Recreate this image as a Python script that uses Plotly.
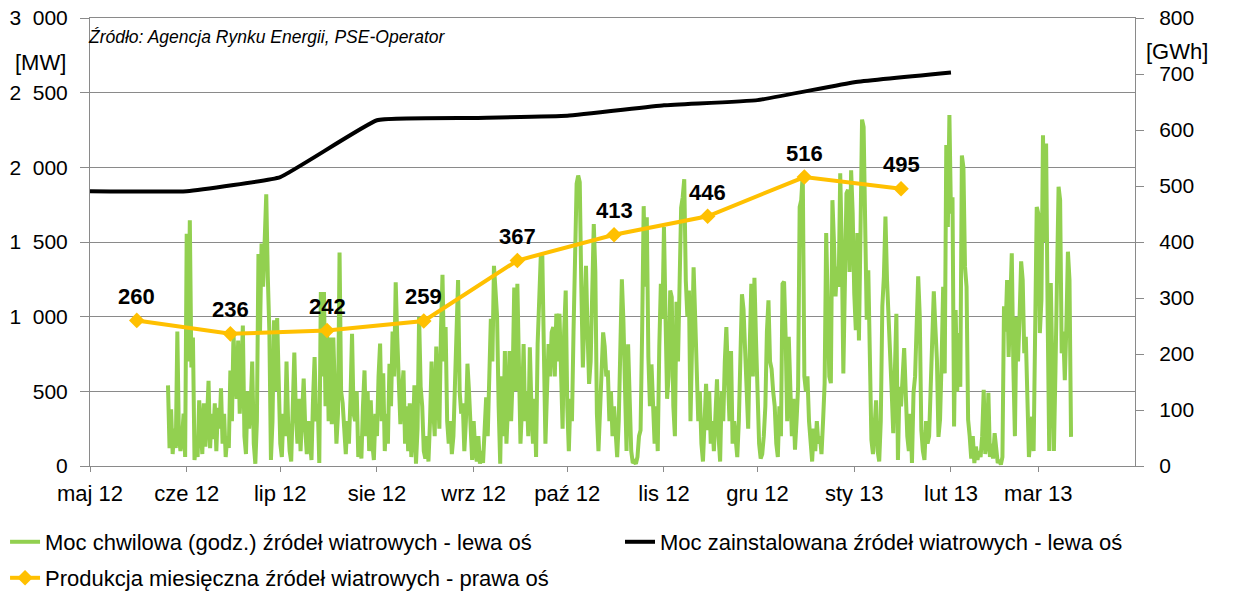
import plotly.graph_objects as go
import pandas as pd

FONT = "Liberation Sans, Arial, sans-serif"

# --- x axis (months) ---
month_ticks = ["2012-05-01", "2012-06-01", "2012-07-01", "2012-08-01", "2012-09-01",
               "2012-10-01", "2012-11-01", "2012-12-01", "2013-01-01", "2013-02-01",
               "2013-03-01"]
month_labels = ["maj 12", "cze 12", "lip 12", "sie 12", "wrz 12", "paź 12",
                "lis 12", "gru 12", "sty 13", "lut 13", "mar 13"]

# --- left axis ticks ---
mw_ticks = [0, 500, 1000, 1500, 2000, 2500, 3000]
mw_labels = ["0", "500", "1\u00a0\u00a0000", "1\u00a0\u00a0500", "2\u00a0\u00a0000",
             "2\u00a0\u00a0500", "3\u00a0\u00a0000"]
gwh_ticks = [0, 100, 200, 300, 400, 500, 600, 700, 800]

# --- installed capacity [MW] ---
inst_dates = ["2012-05-01", "2012-06-01", "2012-07-01", "2012-08-01", "2012-09-01",
              "2012-10-01", "2012-11-01", "2012-12-01", "2013-01-01", "2013-02-01"]
inst_mw = [1840, 1840, 1935, 2315, 2330, 2345, 2415, 2450, 2570, 2635]

# --- monthly production [GWh] ---
prod_dates = ["2012-05-16", "2012-06-15", "2012-07-16", "2012-08-16", "2012-09-15",
              "2012-10-16", "2012-11-15", "2012-12-16", "2013-01-16"]
prod_gwh = [260, 236, 242, 259, 367, 413, 446, 516, 495]

# --- hourly wind power [MW], read at 12-hour steps ---
moc_1_start = "2012-05-26 00:00"
moc_1 = [540, 120, 380, 80, 250, 120, 900, 200, 100, 180,
         350, 60, 1555, 700, 1645, 660, 860, 40, 150, 60,
         440, 200, 80, 420, 130, 300, 570, 120, 350, 180,
         420, 100, 390, 250, 520, 150, 350, 60, 200, 120,
         640, 300, 886, 600, 450, 840, 350, 600, 940, 200,
         80, 500, 250, 400, 700, 150, 15, 300, 1420, 900,
         1490, 1200, 1650, 1820, 1265, 900, 40, 300, 975, 500,
         990, 400, 150, 60, 350, 200, 700, 300, 100, 30,
         400, 760, 350, 150, 450, 100, 350, 585, 250, 80,
         300, 150, 40, 450, 730, 300, 417, 20]
moc_2_start = "2012-07-14 00:00"
moc_2 = [1165, 600, 1165, 400, 900, 300, 860, 280, 860, 500,
         150, 350, 1430, 500, 420, 250, 80, 300, 150, 450,
         886, 350, 300, 500, 60, 200, 50, 400, 640, 200,
         500, 100, 440, 150, 40, 350, 200, 600, 820, 300,
         620, 100, 350, 150, 685, 400, 900, 600, 1230, 860,
         640, 280, 500, 640, 150, 400, 100, 420, 60, 200,
         540, 15, 250, 1000, 530, 400, 100, 50, 200, 30,
         300, 700, 400, 200, 800, 500, 250, 900, 1280, 700,
         930, 300, 150, 300, 80, 200, 600, 900, 1245, 500,
         350, 420, 100, 300, 685, 500, 200, 40, 300]
moc_3_start = "2012-09-01 12:00"
moc_3 = [100, 30, 200, 15, 100, 20, 300, 460, 200, 550,
         985, 700, 1340, 1175, 1000, 400, 15, 600, 200, 770,
         150, 400, 770, 300, 600, 1195, 500, 1220, 700, 150,
         400, 817, 300, 500, 200, 795, 400, 150, 450, 60,
         817, 1200, 1400, 1410, 900, 150, 500, 817, 600, 895,
         930, 600, 1020, 700, 1020, 500, 250, 900, 1175, 400,
         100, 450, 300, 895, 1500, 1890, 1945, 1900, 1200, 660,
         1000, 1340, 900, 550, 700, 1200, 1620, 1300, 350, 100,
         400, 650, 895, 800, 600, 640, 300, 500, 200, 400,
         150, 60, 300, 700, 1250, 970, 600, 100]
moc_4_start = "2012-10-20 12:00"
moc_4 = [815, 390, 100, 20, 30, 15, 60, 200, 240, 900,
         1740, 1200, 1665, 730, 400, 680, 300, 150, 400, 100,
         800, 1220, 985, 1600, 1000, 450, 600, 1175, 1130, 400,
         200, 1100, 700, 1300, 1730, 1800, 1920, 1240, 1000, 1175,
         300, 800, 1330, 1000, 550, 300, 500, 150, 30, 400,
         550, 240, 500, 150, 300, 100, 450, 580, 200, 30,
         500, 300, 700, 930, 600, 300, 770, 150, 300, 150,
         60, 300, 900, 1150, 1050, 795, 500, 250, 800, 1220,
         600, 1260, 850, 400, 150, 50, 80, 200, 400, 900,
         1110, 700, 650, 500, 400, 150, 60, 400, 200, 1220]
moc_5_start = "2012-12-09 12:00"
moc_5 = [1235, 865, 300, 865, 600, 200, 450, 110, 300, 530,
         1735, 1780, 1960, 600, 500, 600, 300, 150, 30, 250,
         100, 300, 150, 200, 80, 300, 550, 1560, 1100, 600,
         555, 1780, 1500, 1135, 1335, 1200, 1960, 1470, 620, 1445,
         1825, 1850, 1300, 1980, 1690, 1155, 910, 1560, 840, 1560,
         2320, 2270, 1445, 980, 1310, 490, 175, 80, 300, 440,
         100, 30, 300, 1070, 1270, 1670, 1245, 930, 710, 500,
         220, 600, 1020, 40, 530, 400, 600, 790, 500, 200,
         100, 350, 20, 490, 600, 1000, 1270, 1000, 240, 100,
         40, 300, 150, 200, 490, 900, 1170, 930, 710, 195]
moc_6_start = "2013-01-28 12:00"
moc_6 = [310, 700, 1200, 620, 2150, 1600, 2350, 1690, 1800, 265,
         1045, 500, 890, 530, 2080, 2000, 1335, 1200, 310, 200,
         50, 200, 20, 130, 40, 100, 60, 200, 510, 80,
         150, 490, 60, 150, 50, 220, 100, 20, 40, 10,
         60, 1070, 900, 1245, 730, 1100, 1425, 665, 200, 1000,
         700, 1000, 1370, 1245, 755, 865, 300, 60, 200, 330,
         100, 900, 1735, 1690, 890, 1110, 2215, 1500, 2160, 1000,
         100, 1225, 750, 100, 640, 1500, 1870, 1780, 755, 900,
         575, 935, 1435, 1245, 195]

chunks = [(moc_1_start, moc_1), (moc_2_start, moc_2), (moc_3_start, moc_3),
          (moc_4_start, moc_4), (moc_5_start, moc_5), (moc_6_start, moc_6)]
moc_x, moc_y = [], []
for start, vals in chunks:
    moc_x += list(pd.date_range(start, periods=len(vals), freq="12h"))
    moc_y += vals

GRID = "#8a8a8a"
GREEN = "#92D050"
YELLOW = "#FFC000"
LEG_FONT = dict(family=FONT, size=22, color="#000000")

fig = go.Figure()
fig.add_trace(go.Scatter(
    x=moc_x, y=moc_y, mode="lines",
    line=dict(color=GREEN, width=4),
    name="Moc chwilowa (godz.) źródeł wiatrowych - lewa oś", legend="legend"))
fig.add_trace(go.Scatter(
    x=pd.to_datetime(inst_dates), y=inst_mw, mode="lines",
    line=dict(color="#000000", width=4, shape="spline", smoothing=0.3),
    name="Moc zainstalowana źródeł wiatrowych - lewa oś", legend="legend2"))
fig.add_trace(go.Scatter(
    x=pd.to_datetime(prod_dates), y=prod_gwh, mode="lines+markers", yaxis="y2",
    line=dict(color=YELLOW, width=4),
    marker=dict(symbol="diamond", size=12, color=YELLOW),
    name="Produkcja miesięczna źródeł wiatrowych - prawa oś", legend="legend3"))

annotations = []
for d, v in zip(prod_dates, prod_gwh):
    annotations.append(dict(
        x=d, y=v, xref="x", yref="y2", text=f"<b>{v}</b>", showarrow=False,
        yshift=24, font=dict(family=FONT, size=22, color="#000000")))

annotations += [
    dict(x=0, y=0.9576, xref="paper", yref="paper", xanchor="left", yanchor="middle",
         xshift=-4, text="<i>Źródło: Agencja Rynku Energii, PSE-Operator</i>",
         showarrow=False, font=dict(family=FONT, size=17.5, color="#000000")),
    dict(x=-0.0478, y=0.8996, xref="paper", yref="paper", xanchor="center", yanchor="middle",
         text="[MW]", showarrow=False, font=dict(family=FONT, size=22, color="#000000")),
    dict(x=1.040, y=0.926, xref="paper", yref="paper", xanchor="center", yanchor="middle",
         text="[GWh]", showarrow=False, font=dict(family=FONT, size=22, color="#000000")),
]

leg_common = dict(orientation="h", xanchor="left", yanchor="middle",
                  font=LEG_FONT, bgcolor="rgba(0,0,0,0)", itemwidth=30)

fig.update_layout(
    width=1237, height=606,
    margin=dict(l=90, r=102, t=18, b=140, autoexpand=False),
    paper_bgcolor="white", plot_bgcolor="white",
    font=dict(family=FONT, size=21, color="#000000"),
    showlegend=True,
    legend=dict(x=-0.0813, y=-0.1696, **leg_common),
    legend2=dict(x=0.5072, y=-0.1696, **leg_common),
    legend3=dict(x=-0.0813, y=-0.25, **leg_common),
    xaxis=dict(type="date", range=["2012-05-01", "2013-04-01"],
               tickvals=month_ticks, ticktext=month_labels,
               showgrid=False, zeroline=False,
               showline=True, linecolor=GRID, linewidth=1, mirror=True,
               ticks="outside", ticklen=5, tickcolor=GRID, ticklabelstandoff=3,
               tickfont=dict(family=FONT, size=22, color="#000000")),
    yaxis=dict(range=[0, 3000], tickvals=mw_ticks, ticktext=mw_labels,
               showgrid=True, gridcolor=GRID, gridwidth=1, zeroline=False,
               showline=True, linecolor=GRID, linewidth=1,
               ticks="outside", ticklen=9, tickcolor=GRID, ticklabelstandoff=8,
               ticklabeloverflow="allow",
               tickfont=dict(family=FONT, size=21, color="#000000")),
    yaxis2=dict(range=[0, 800], tickvals=gwh_ticks, overlaying="y", side="right",
                showgrid=False, zeroline=False,
                showline=True, linecolor=GRID, linewidth=1,
                ticks="outside", ticklen=8, tickcolor=GRID, ticklabelstandoff=11,
                ticklabeloverflow="allow",
                tickfont=dict(family=FONT, size=21, color="#000000")),
    annotations=annotations,
)

# remove the browser's default 8 px body margin so the figure fills the window
fig.write_html("out.html",
               config={"displayModeBar": False, "staticPlot": True},
               post_script="document.body.style.margin='0px';")
